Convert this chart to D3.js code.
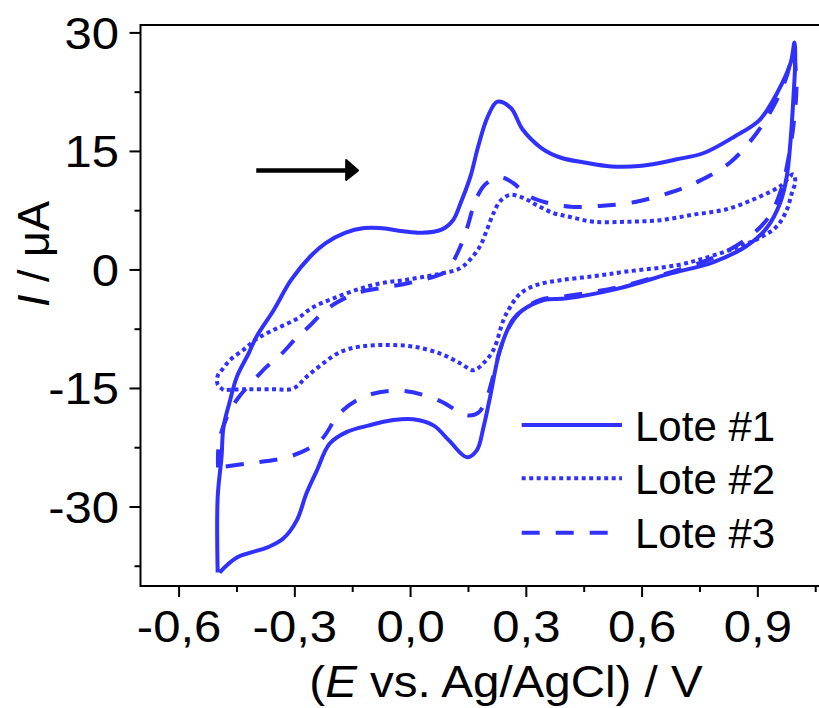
<!DOCTYPE html>
<html>
<head>
<meta charset="utf-8">
<script src="https://cdnjs.cloudflare.com/ajax/libs/d3/7.8.5/d3.min.js"></script>
<style>
  body { margin: 0; background: #fff; }
  text { font-family: "Liberation Sans", Arial, sans-serif; fill: #000; }
</style>
</head>
<body>
<div id="chart"></div>
<script>
// CV data (E in V, I in uA), each a closed loop
const lote1E = [-0.50, -0.50, -0.49, -0.485, -0.47, -0.45, -0.42, -0.40, -0.355, -0.31, -0.26, -0.22, -0.17, -0.12, -0.08, -0.02, 0.03, 0.08, 0.11, 0.13, 0.155, 0.175, 0.20, 0.225, 0.26, 0.29, 0.34, 0.39, 0.45, 0.52, 0.60, 0.69, 0.76, 0.84, 0.905, 0.95, 0.985, 0.995,
  0.997, 0.992, 0.985, 0.975, 0.958, 0.923, 0.87, 0.785, 0.67, 0.535, 0.405, 0.345, 0.29, 0.265, 0.232, 0.206, 0.189, 0.172, 0.146, 0.10, 0.06, 0.007, -0.045, -0.11, -0.165, -0.21, -0.243, -0.27, -0.295, -0.33, -0.37, -0.45, -0.495];
const lote1I = [-38.3, -28.8, -23.7, -19.9, -16.9, -13.5, -10.6, -8.5, -5.1, -1.3, 1.7, 3.4, 4.7, 5.3, 5.3, 4.9, 4.7, 5.1, 6.3, 8.5, 11.8, 15.6, 19.4, 21.3, 20.5, 17.8, 15.4, 14.2, 13.6, 13.1, 13.2, 14.0, 14.8, 16.9, 19.0, 22.4, 26.2, 28.8,
  26.6, 21.6, 16.5, 11.8, 8.5, 5.3, 3.0, 1.0, -0.5, -2.4, -3.6, -3.8, -5.1, -6.3, -10.1, -16.1, -19.9, -22.8, -23.7, -21.6, -19.7, -18.9, -19.0, -19.7, -20.5, -22.0, -25.4, -28.3, -31.7, -34.0, -35.1, -36.4, -38.3];

const lote2E = [-0.485, -0.50, -0.50, -0.488, -0.468, -0.433, -0.398, -0.347, -0.295, -0.252, -0.20, -0.139, -0.079, -0.019, 0.042, 0.085, 0.128, 0.154, 0.18, 0.198, 0.215, 0.232, 0.258, 0.293, 0.327, 0.37, 0.414, 0.474, 0.56, 0.647, 0.733, 0.82, 0.906, 0.958, 0.992,
  0.997, 0.988, 0.975, 0.949, 0.906, 0.854, 0.776, 0.69, 0.56, 0.474, 0.388, 0.327, 0.284, 0.258, 0.241, 0.215, 0.189, 0.163, 0.128, 0.077, 0.007, -0.062, -0.131, -0.183, -0.226, -0.269, -0.304, -0.355, -0.424, -0.485];
const lote2I = [-15.2, -14.5, -13.4, -12.6, -11.4, -10.1, -8.7, -7.4, -6.2, -4.7, -3.6, -2.5, -1.7, -1.3, -0.8, -0.4, 0.2, 1.3, 3.0, 5.1, 7.2, 8.7, 9.5, 9.1, 8.2, 7.2, 6.7, 6.1, 6.1, 6.3, 7.0, 7.7, 9.3, 10.6, 12.1,
  11.2, 9.7, 7.6, 5.5, 4.1, 3.0, 1.7, 0.6, -0.2, -0.8, -1.3, -1.9, -3.0, -4.7, -6.3, -10.1, -11.8, -12.7, -11.8, -10.6, -9.7, -9.5, -9.7, -10.4, -11.8, -13.5, -15.0, -15.1, -15.1, -15.2];

const lote3E = [-0.499, -0.496, -0.468, -0.442, -0.407, -0.374, -0.338, -0.294, -0.26, -0.226, -0.19, -0.139, -0.079, -0.019, 0.043, 0.084, 0.108, 0.123, 0.136, 0.149, 0.16, 0.173, 0.191, 0.211, 0.237, 0.266, 0.305, 0.354, 0.414, 0.491, 0.582, 0.673, 0.75, 0.828, 0.898, 0.95, 0.976, 0.991,
  1.0, 0.994, 0.981, 0.96, 0.927, 0.867, 0.782, 0.673, 0.535, 0.405, 0.336, 0.289, 0.258, 0.232, 0.211, 0.198, 0.175, 0.144, 0.077, -0.019, -0.113, -0.183, -0.234, -0.312, -0.424, -0.499];
const lote3I = [-25.0, -21.6, -17.8, -15.9, -14.0, -12.3, -10.8, -8.5, -7.0, -5.3, -4.1, -2.9, -2.3, -1.8, -1.1, -0.4, 0.9, 2.3, 3.8, 5.7, 7.6, 9.3, 10.7, 11.4, 11.7, 11.0, 9.4, 8.5, 8.0, 8.1, 8.6, 9.8, 11.3, 13.6, 17.4, 21.6, 24.7, 27.6,
  23.5, 19.0, 14.6, 10.1, 6.6, 3.8, 1.5, -0.3, -2.2, -3.3, -3.8, -5.1, -7.0, -10.1, -14.0, -16.1, -18.1, -18.4, -16.6, -15.3, -15.9, -18.1, -21.6, -23.6, -24.5, -25.0];

const seriesNames = ["Lote #1", "Lote #2", "Lote #3"];
const xTicks = [-0.6, -0.3, 0.0, 0.3, 0.6, 0.9];
const yTicks = [-30, -15, 0, 15, 30];

const W = 819, H = 708;
const blue = "#3030ff";
const dashes = [null, "4,3.5", "18,16"];

const svg = d3.select("#chart").append("svg")
    .attr("width", W).attr("height", H);

const x = d3.scaleLinear().domain([-0.7, 1.1]).range([140.5, 835]);
const y = d3.scaleLinear().domain([-40, 31]).range([586, 25]);

// frame
svg.append("rect")
    .attr("x", x(-0.7)).attr("y", y(31))
    .attr("width", x(1.1) - x(-0.7)).attr("height", y(-40) - y(31))
    .attr("fill", "none").attr("stroke", "#000").attr("stroke-width", 2);

// x ticks
const xMinor = d3.range(-0.6, 1.06, 0.15);
svg.append("g").selectAll("line").data(xMinor).join("line")
    .attr("x1", d => x(d)).attr("x2", d => x(d))
    .attr("y1", y(-40)).attr("y2", (d, i) => y(-40) + (i % 2 === 0 ? 11 : 6))
    .attr("stroke", "#000").attr("stroke-width", 2);
svg.append("g").selectAll("text").data(xTicks).join("text")
    .attr("transform", d => `translate(${x(d)},642) scale(1.09,1)`)
    .attr("text-anchor", "middle")
    .style("font-size", "45px")
    .text(d => d3.format(".1f")(d).replace(".", ",").replace("−", "-"));

// y ticks
const yMinor = d3.range(-37.5, 31, 7.5);
svg.append("g").selectAll("line").data(yMinor).join("line")
    .attr("y1", d => y(d)).attr("y2", d => y(d))
    .attr("x1", x(-0.7)).attr("x2", d => x(-0.7) - (d % 15 === 0 ? 11 : 6))
    .attr("stroke", "#000").attr("stroke-width", 2);
svg.append("g").selectAll("text").data(yTicks).join("text")
    .attr("transform", d => `translate(119,${y(d) + 16}) scale(1.09,1)`)
    .attr("text-anchor", "end")
    .style("font-size", "45px")
    .text(d => String(d));

// axis titles
const xt = svg.append("text")
    .attr("transform", "translate(506,697) scale(1.08,1)")
    .attr("text-anchor", "middle")
    .style("font-size", "44px");
xt.append("tspan").text("(");
xt.append("tspan").style("font-style", "italic").text("E");
xt.append("tspan").text(" vs. Ag/AgCl) / V");

const yt = svg.append("text")
    .attr("transform", "translate(49,254) rotate(-90)")
    .attr("text-anchor", "middle")
    .style("font-size", "45px");
yt.append("tspan").style("font-style", "italic").text("I");
yt.append("tspan").text(" / μA");

// curves
const seriesE = [lote1E, lote2E, lote3E];
const seriesI = [lote1I, lote2I, lote3I];
const line = d3.line()
    .x(d => x(d[0])).y(d => y(d[1]))
    .curve(d3.curveCatmullRom.alpha(0.5));

seriesNames.forEach((name, k) => {
    const pts = seriesE[k].map((e, i) => [e, seriesI[k][i]]);
    svg.append("path")
        .datum(pts)
        .attr("d", line)
        .attr("fill", "none")
        .attr("stroke", blue)
        .attr("stroke-width", 4)
        .attr("stroke-linejoin", "round")
        .attr("stroke-dasharray", dashes[k]);
});

// scan direction arrow
const arrowI = 12.6;
svg.append("line")
    .attr("x1", x(-0.4)).attr("x2", x(-0.16))
    .attr("y1", y(arrowI)).attr("y2", y(arrowI))
    .attr("stroke", "#000").attr("stroke-width", 4.5);
svg.append("path")
    .attr("d", `M${x(-0.167)},${y(arrowI) - 10.5} L${x(-0.136)},${y(arrowI)} L${x(-0.167)},${y(arrowI) + 9.5} Z`)
    .attr("fill", "#000").attr("stroke", "#000").attr("stroke-width", 2)
    .attr("stroke-linejoin", "round");

// legend
const legY = [425, 478.3, 532.7];
const leg = svg.append("g");
seriesNames.forEach((name, k) => {
    leg.append("line")
        .attr("x1", 521.7).attr("x2", 622)
        .attr("y1", legY[k]).attr("y2", legY[k])
        .attr("stroke", blue).attr("stroke-width", 4)
        .attr("stroke-dasharray", dashes[k]);
    leg.append("text")
        .attr("x", 635).attr("y", legY[k] + 15.5)
        .style("font-size", "42px")
        .text(name);
});
</script>
</body>
</html>
